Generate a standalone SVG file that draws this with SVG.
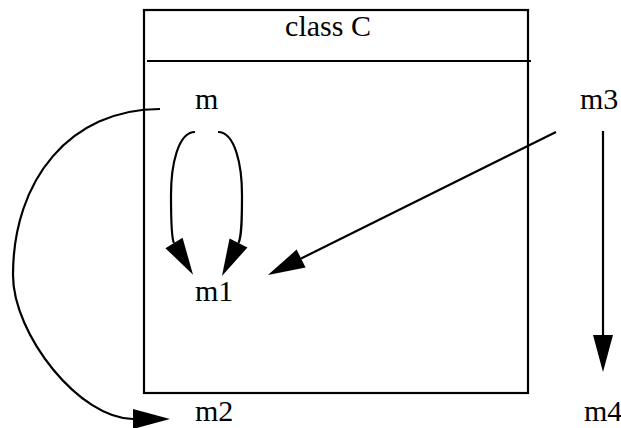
<svg xmlns="http://www.w3.org/2000/svg" width="621" height="428" viewBox="0 0 621 428">
<style>
.t{font-family:"Liberation Serif","Times New Roman",serif;font-size:30px;fill:#000}
.c{fill:none;stroke:#000;stroke-width:2.2}
.b{fill:none;stroke:#000;stroke-width:2.2}
</style>
<defs>
<marker id="ah" markerWidth="38" markerHeight="20" refX="0" refY="10" orient="auto" markerUnits="userSpaceOnUse" overflow="visible">
<path d="M0,0 L37,10 L0,20 z" fill="#000"/>
</marker>
</defs>
<rect width="621" height="428" fill="#fff"/>
<g id="classC">
<rect class="b" x="144" y="10" width="384" height="383"/>
<line class="b" x1="147" y1="61" x2="531" y2="61"/>
<text class="t" x="328" y="36" text-anchor="middle">class C</text>
</g>
<g id="m"><text class="t" x="195" y="109">m</text></g>
<g id="m1"><text class="t" x="195" y="301">m1</text></g>
<g id="m2"><text class="t" x="195" y="421">m2</text></g>
<g id="m3"><text class="t" x="580" y="109">m3</text></g>
<g id="m4"><text class="t" x="584" y="421">m4</text></g>
<g id="connectors">
<path class="c" marker-end="url(#ah)" d="M195,132 C178,132 171,165 171,195 C171,215 171,238 174,243"/>
<path class="c" marker-end="url(#ah)" d="M218,132 C235,132 242,165 242,195 C242,215 242,236 238.5,243"/>
<path class="c" marker-end="url(#ah)" d="M556,132 L301.1,258.5"/>
<path class="c" marker-end="url(#ah)" d="M603,131 L603,335"/>
<path class="c" marker-end="url(#ah)" d="M160,109 C70,109 13,180 13,275 C13,335 80,419 133,419"/>
</g>
</svg>
